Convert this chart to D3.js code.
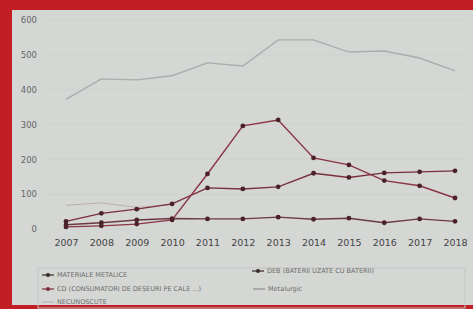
<!DOCTYPE html>
<html>
<head>
<meta charset="utf-8">
<script src="https://cdn.jsdelivr.net/npm/d3@7"></script>
<style>
  body { margin: 0; background: #c62127; }
  svg { display: block; }
</style>
</head>
<body>
<div id="chart"></div>
<script>
// years on the x axis
let years = [2007, 2008, 2009, 2010, 2011, 2012, 2013, 2014, 2015, 2016, 2017, 2018];
let yTicks = [0, 100, 200, 300, 400, 500, 600];

// series values
let materiale = [12, 18, 26, 30, 29, 29, 34, 28, 31, 18, 29, 22];
let deb = [22, 45, 57, 72, 118, 115, 121, 160, 148, 161, 164, 167];
let cd = [6, 9, 14, 26, 158, 296, 313, 204, 184, 139, 124, 89];
let metalurgic = [68, 75, 62, 70, null, null, null, null, null, null, null, null];
let necunoscute = [372, 431, 428, 440, 477, 468, 543, 543, 508, 511, 491, 454];

let legendNames = [
  "MATERIALE METALICE",
  "DEB (BATERII UZATE CU BATERII)",
  "CD (CONSUMATORI DE DEȘEURI PE CALE ...)",
  "Metalurgic",
  "NECUNOSCUTE"
];

let svgWidth = 473;
let svgHeight = 309;
let margin = { top: 20, right: 17, bottom: 80, left: 66 };

let svg = d3.select("#chart").append("svg")
  .attr("width", svgWidth)
  .attr("height", svgHeight);

// red slide frame and grey panel
svg.append("rect").attr("x", 0).attr("y", 0).attr("width", svgWidth).attr("height", svgHeight).attr("fill", "#c21f24");
svg.append("rect").attr("x", 12).attr("y", 10).attr("width", svgWidth - 12).attr("height", 295)
  .attr("fill", "#d5d7d5");

let xScale = d3.scalePoint()
  .domain(years)
  .range([margin.left, svgWidth - margin.right - 1]);

let yScale = d3.scaleLinear()
  .domain([0, 600])
  .range([229, 20]);

// faint gridlines
svg.append("g").selectAll("line")
  .data(yTicks)
  .enter().append("line")
  .attr("x1", 48).attr("x2", svgWidth - 8)
  .attr("y1", function(d) { return yScale(d); })
  .attr("y2", function(d) { return yScale(d); })
  .attr("stroke", "#cfd2d0").attr("stroke-width", 1);

// axes without domain lines
let yAxis = svg.append("g")
  .attr("transform", "translate(40,0)")
  .call(d3.axisLeft(yScale).tickValues(yTicks).tickSize(0));
yAxis.select(".domain").remove();
yAxis.selectAll("text").attr("fill", "#666").style("font-size", "8.5px").style("font-family", "DejaVu Sans");

let xAxis = svg.append("g")
  .attr("transform", "translate(0,236)")
  .call(d3.axisBottom(xScale).tickSize(0));
xAxis.select(".domain").remove();
xAxis.selectAll("text").attr("fill", "#444").style("font-size", "9.5px").style("font-family", "DejaVu Sans");

let line = d3.line()
  .defined(function(d) { return d != null; })
  .x(function(d, i) { return xScale(years[i]); })
  .y(function(d) { return yScale(d); });

let series = [
  { values: necunoscute, color: "#abadac", width: 1.4, marker: false },
  { values: metalurgic, color: "#bcadaf", width: 1, marker: false },
  { values: materiale, color: "#6a3a42", width: 1.4, marker: true },
  { values: deb, color: "#7a2f3c", width: 1.4, marker: true },
  { values: cd, color: "#8a3444", width: 1.4, marker: true }
];

series.forEach(function(s) {
  svg.append("path")
    .datum(s.values)
    .attr("d", line)
    .attr("fill", "none")
    .attr("stroke", s.color)
    .attr("stroke-width", s.width);
  if (s.marker) {
    svg.append("g").selectAll("circle")
      .data(s.values)
      .enter().append("circle")
      .attr("cx", function(d, i) { return xScale(years[i]); })
      .attr("cy", function(d) { return yScale(d); })
      .attr("r", 2.4)
      .attr("fill", "#4a2228");
  }
});

// legend box
svg.append("rect").attr("x", 38).attr("y", 268).attr("width", 427).attr("height", 40)
  .attr("fill", "none").attr("stroke", "#c4c6c5");

let legendItems = [
  { name: legendNames[0], x: 42, y: 275, color: "#3a2a2c", marker: true },
  { name: legendNames[1], x: 252, y: 271, color: "#3a2a2c", marker: true },
  { name: legendNames[2], x: 42, y: 289, color: "#7a2f3c", marker: true },
  { name: legendNames[3], x: 253, y: 289, color: "#8c8c8c", marker: false },
  { name: legendNames[4], x: 42, y: 302, color: "#b5b5b5", marker: false }
];

let legend = svg.append("g").selectAll("g")
  .data(legendItems)
  .enter().append("g")
  .attr("transform", function(d) { return "translate(" + d.x + "," + d.y + ")"; });

legend.append("line")
  .attr("x1", 0).attr("x2", 12).attr("y1", 0).attr("y2", 0)
  .attr("stroke", function(d) { return d.color; }).attr("stroke-width", 1.2);
legend.filter(function(d) { return d.marker; }).append("circle")
  .attr("cx", 6).attr("cy", 0).attr("r", 2).attr("fill", function(d) { return d.color; });
legend.append("text")
  .attr("x", 15).attr("dy", "0.35em")
  .text(function(d) { return d.name; })
  .attr("fill", "#6c6c6c")
  .style("font-size", "6.5px")
  .style("font-family", "DejaVu Sans");
</script>
</body>
</html>
